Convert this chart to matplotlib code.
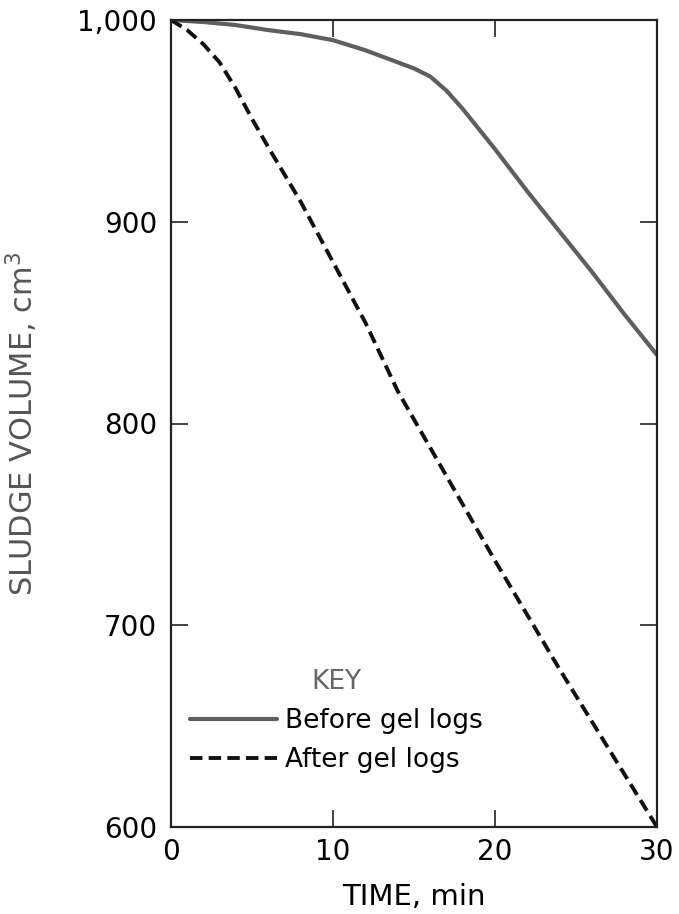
import numpy as np
import matplotlib
matplotlib.use('Agg')
import matplotlib.pyplot as plt

# values
time_before = [0, 2, 4, 6, 8, 10, 12, 14, 15, 16, 17, 18, 19, 20, 22, 24, 26, 28, 30]
vol_before = [1000, 999, 997.5, 995, 993, 990, 985, 979, 976, 972, 965, 956, 946, 936, 915, 895, 875, 854, 834]

time_after = [0, 1, 2, 3, 4, 5, 6, 8, 10, 12, 14, 16, 18, 20, 22, 24, 26, 28, 30]
vol_after = [1000, 995, 988, 979, 966, 951, 937, 910, 880, 850, 816, 788, 760, 732, 705, 678, 652, 626, 600]

x_ticks = [0, 10, 20, 30]
y_ticks = [600, 700, 800, 900, 1000]
y_tick_labels = ['600', '700', '800', '900', '1,000']

GRAY = '#5e5e5e'

fig = plt.figure(figsize=(6.79, 9.14), dpi=100)
ax = fig.add_axes([171/679, 87/914, 486/679, 807/914])

ax.plot(time_before, vol_before, color=GRAY, lw=3.0, solid_capstyle='round',
        label='Before gel logs')
ax.plot(time_after, vol_after, color='#111111', lw=2.8, dashes=(3.2, 1.6),
        label='After gel logs')

ax.set_xlim(0, 30)
ax.set_ylim(600, 1000)
ax.set_xticks(x_ticks)
ax.set_xticklabels([str(t) for t in x_ticks])
ax.set_yticks(y_ticks)
ax.set_yticklabels(y_tick_labels)

ax.tick_params(direction='in', top=True, right=True, length=12, width=1.2,
               labelsize=20, color='#222222')
ax.tick_params(axis='x', pad=8)
ax.tick_params(axis='y', pad=10)
for sp in ax.spines.values():
    sp.set_linewidth(1.6)
    sp.set_color('#222222')

ax.set_xlabel('TIME, min', fontsize=21, labelpad=12)
ax.set_ylabel('SLUDGE VOLUME, cm$^3$', fontsize=22, color='#555555')
ax.yaxis.set_label_coords(-0.27, 0.5)

leg = ax.legend(loc='upper left', bbox_to_anchor=(0.039, 0.196), frameon=False,
                title='KEY', fontsize=19, title_fontsize=19,
                handlelength=3.3, handletextpad=0.3, labelspacing=0.5,
                borderpad=0, borderaxespad=0)
leg.get_title().set_color('#666666')

fig.savefig('out.png', dpi=100)
